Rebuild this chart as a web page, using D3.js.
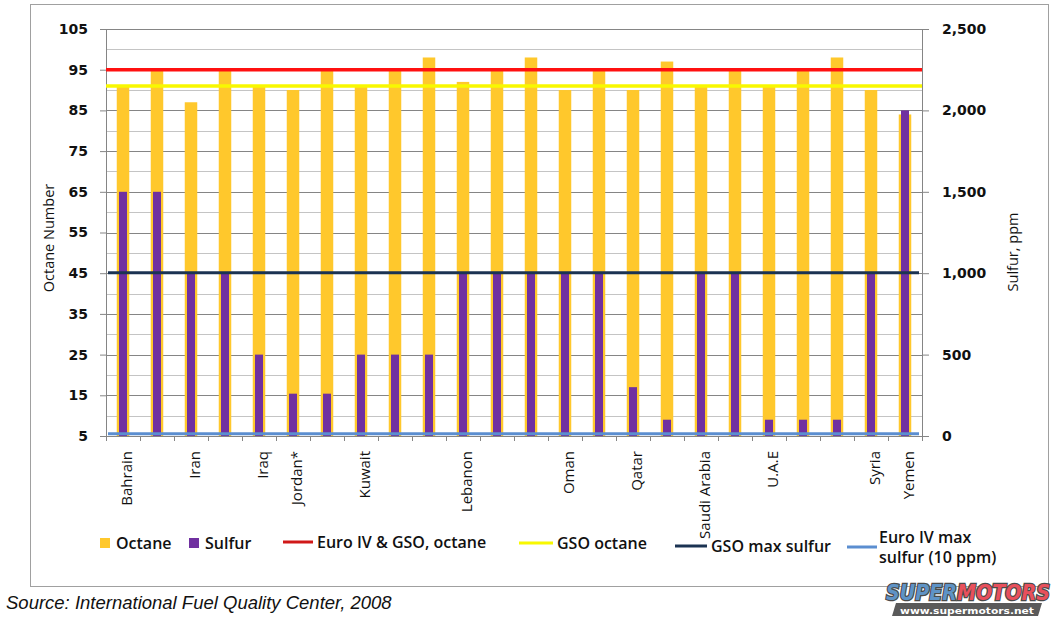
<!DOCTYPE html>
<html>
<head>
<meta charset="utf-8">
<script src="https://cdn.jsdelivr.net/npm/d3@7"></script>
<style>
  body { margin: 0; background: #fff; }
  #here { width: 1063px; height: 620px; }
</style>
</head>
<body>
<div id="here"></div>
<script>
// Octane and sulfur of gasoline in Middle East countries

const labels = ["Bahrain", "", "Iran", "", "Iraq", "Jordan*", "", "Kuwait", "", "",
    "Lebanon", "", "", "Oman", "", "Qatar", "", "Saudi Arabia", "", "U.A.E", "", "",
    "Syria", "Yemen"];
const octane = [91, 95, 87, 95, 91, 90, 95, 91, 95, 98, 92, 95, 98, 90, 95, 90, 97,
    91, 95, 91, 95, 98, 90, 84];
const sulfur = [1500, 1500, 1000, 1000, 500, 260, 260, 500, 500, 500, 1000, 1000,
    1000, 1000, 1000, 300, 100, 1000, 1000, 100, 100, 100, 1000, 2000];

// limit lines
const octaneLimits = [95, 91];        // Euro IV & GSO, GSO
const sulfurLimits = [1000, 10];      // GSO max, Euro IV max

const octaneTicks = [5, 15, 25, 35, 45, 55, 65, 75, 85, 95, 105];
const sulfurTicks = [0, 500, 1000, 1500, 2000, 2500];

const legendNames = ["Octane", "Sulfur", "Euro IV & GSO, octane", "GSO octane",
    "GSO max sulfur", "Euro IV max|sulfur (10 ppm)"];

const width = 1063;
const height = 620;
const plot = { left: 106, right: 922, top: 29, bottom: 436 };

const colors = {
    octane: "#ffc82c",
    sulfur: "#7030a0",
    red: "#ff1010",
    yellow: "#f8f800",
    navy: "#1b3352",
    blue: "#5b8ed0"
};

const svg = d3
    .select("#here")
    .append("svg")
    .attr("width", width)
    .attr("height", height);

// outer frame
svg.append("rect")
    .attr("x", 30.5)
    .attr("y", 4.5)
    .attr("width", 1018)
    .attr("height", 582)
    .attr("fill", "#fff")
    .attr("stroke", "#a0a0a0");

// scales
const idx = d3.range(labels.length);

const xScale = d3
    .scaleBand()
    .domain(idx)
    .range([plot.left, plot.right]);

const xTick = d3
    .scaleLinear()
    .domain([0, labels.length])
    .range([plot.left, plot.right]);

const yLeft = d3
    .scaleLinear()
    .domain([5, 105])
    .range([plot.bottom, plot.top]);

const yRight = d3
    .scaleLinear()
    .domain([0, 2500])
    .range([plot.bottom, plot.top]);

// gridlines every 5 octane
svg.append("g")
    .selectAll("line")
    .data(d3.range(10, 106, 5))
    .join("line")
    .attr("x1", plot.left)
    .attr("x2", plot.right)
    .attr("y1", d => Math.round(yLeft(d)) + 0.5)
    .attr("y2", d => Math.round(yLeft(d)) + 0.5)
    .attr("stroke", d => (d - 5) % 10 === 0 ? "#858585" : "#c4c4c4");

// bars
const octW = 12.5;
const sulW = 8;

svg.append("g")
    .selectAll("rect")
    .data(octane)
    .join("rect")
    .attr("x", (d, i) => xScale(i) + xScale.bandwidth() / 2 - octW / 2)
    .attr("y", d => yLeft(d))
    .attr("width", octW)
    .attr("height", d => yLeft(5) - yLeft(d))
    .attr("fill", colors.octane);

svg.append("g")
    .selectAll("rect")
    .data(sulfur)
    .join("rect")
    .attr("x", (d, i) => xScale(i) + xScale.bandwidth() / 2 - sulW / 2)
    .attr("y", d => yRight(d))
    .attr("width", sulW)
    .attr("height", d => yRight(0) - yRight(d))
    .attr("fill", colors.sulfur);

// axes
const styleAxis = (g) => {
    g.selectAll(".domain").attr("stroke", "#858585");
    g.selectAll(".tick line").attr("stroke", "#858585");
    g.selectAll(".tick text")
        .attr("font-family", "DejaVu Sans")
        .attr("font-weight", "bold")
        .attr("font-size", 14)
        .attr("fill", "#111");
};

svg.append("g")
    .attr("transform", `translate(${plot.left}, 0)`)
    .call(d3.axisLeft(yLeft).tickValues(octaneTicks).tickSize(6).tickSizeOuter(0).tickPadding(12))
    .call(styleAxis);

svg.append("g")
    .attr("transform", `translate(${plot.right}, 0)`)
    .call(d3.axisRight(yRight).tickValues(sulfurTicks).tickSize(7).tickSizeOuter(0)
        .tickPadding(13).tickFormat(d3.format(",")))
    .call(styleAxis);

svg.append("g")
    .attr("transform", `translate(0, ${plot.bottom})`)
    .call(d3.axisBottom(xTick).tickValues(d3.range(0, labels.length + 1)).tickSize(5)
        .tickSizeOuter(0).tickFormat(""))
    .call(styleAxis);

// category labels
svg.append("g")
    .selectAll("text")
    .data(labels)
    .join("text")
    .attr("transform", (d, i) =>
        `translate(${xScale(i) + xScale.bandwidth() / 2 + 4}, 451) rotate(-90)`)
    .attr("text-anchor", "end")
    .attr("dy", "0.35em")
    .attr("font-family", "Open Sans")
    .attr("font-size", 15)
    .attr("fill", "#111")
    .text(d => d);

// limit lines
const lineColors = [colors.red, colors.yellow];
svg.append("g")
    .selectAll("line")
    .data(octaneLimits)
    .join("line")
    .attr("x1", plot.left)
    .attr("x2", plot.right)
    .attr("y1", d => yLeft(d))
    .attr("y2", d => yLeft(d))
    .attr("stroke", (d, i) => lineColors[i])
    .attr("stroke-width", 3.5);

const sulfurColors = [colors.navy, colors.blue];
svg.append("g")
    .selectAll("line")
    .data(sulfurLimits)
    .join("line")
    .attr("x1", plot.left + 2)
    .attr("x2", plot.right - 3)
    .attr("y1", d => yRight(d) - 0.5)
    .attr("y2", d => yRight(d) - 0.5)
    .attr("stroke", (d, i) => sulfurColors[i])
    .attr("stroke-width", 3);

// axis titles
svg.append("text")
    .attr("transform", "translate(54, 238) rotate(-90)")
    .attr("text-anchor", "middle")
    .attr("font-family", "Open Sans")
    .attr("font-size", 14.5)
    .attr("fill", "#111")
    .text("Octane Number");

svg.append("text")
    .attr("transform", "translate(1018, 252) rotate(-90)")
    .attr("text-anchor", "middle")
    .attr("font-family", "Open Sans")
    .attr("font-size", 14.5)
    .attr("fill", "#111")
    .text("Sulfur, ppm");

// legend
const legend = svg.append("g")
    .attr("font-family", "Open Sans")
    .attr("font-weight", 600)
    .attr("font-size", 16)
    .attr("fill", "#111");

const legendItems = [
    { type: "box", color: colors.octane, x: 100, tx: 116, y: 543 },
    { type: "box", color: colors.sulfur, x: 189, tx: 205, y: 543 },
    { type: "line", color: "#d01818", x: 283, w: 30, tx: 317, y: 542 },
    { type: "line", color: colors.yellow, x: 519, w: 34, tx: 557, y: 543 },
    { type: "line", color: colors.navy, x: 675, w: 32, tx: 711, y: 546 },
    { type: "line", color: colors.blue, x: 847, w: 30, tx: 879, y: 547 }
];

legendItems.forEach(function(d, i){
    if (d.type === "box") {
        legend.append("rect")
            .attr("x", d.x)
            .attr("y", d.y - 5)
            .attr("width", 10)
            .attr("height", 10)
            .attr("fill", d.color);
    } else {
        legend.append("line")
            .attr("x1", d.x)
            .attr("x2", d.x + d.w)
            .attr("y1", d.y)
            .attr("y2", d.y)
            .attr("stroke", d.color)
            .attr("stroke-width", 3);
    }
    const parts = legendNames[i].split("|");
    parts.forEach(function(p, j){
        legend.append("text")
            .attr("x", d.tx)
            .attr("y", parts.length > 1 ? d.y - 10 + j * 20 : d.y)
            .attr("dy", "0.35em")
            .text(p);
    });
});

// source note
svg.append("text")
    .attr("x", 6)
    .attr("y", 609)
    .attr("font-family", "Liberation Sans")
    .attr("font-style", "italic")
    .attr("font-size", 18.5)
    .attr("fill", "#111")
    .text("Source: International Fuel Quality Center, 2008");

// watermark
const logo = svg.append("g");
logo.append("path")
    .attr("d", "M896,603 L1042,603 L1038,616 L892,616 Z")
    .attr("fill", "#5a5a5a");
logo.append("text")
    .attr("x", 900)
    .attr("y", 614)
    .attr("font-family", "DejaVu Sans")
    .attr("font-weight", "bold")
    .attr("font-size", 9.5)
    .attr("fill", "#fff")
    .attr("textLength", 134)
    .attr("lengthAdjust", "spacingAndGlyphs")
    .text("www.supermotors.net");
const brand = logo.append("text")
    .attr("x", 886)
    .attr("y", 600)
    .attr("font-family", "DejaVu Sans")
    .attr("font-weight", "bold")
    .attr("font-style", "italic")
    .attr("font-size", 21)
    .attr("stroke", "#4a4a4a")
    .attr("stroke-width", 2.5)
    .attr("paint-order", "stroke")
    .attr("textLength", 164)
    .attr("lengthAdjust", "spacingAndGlyphs");
brand.append("tspan").attr("fill", "#5e93c6").text("SUPER");
brand.append("tspan").attr("fill", "#e8505c").text("MOTORS");
</script>
</body>
</html>
